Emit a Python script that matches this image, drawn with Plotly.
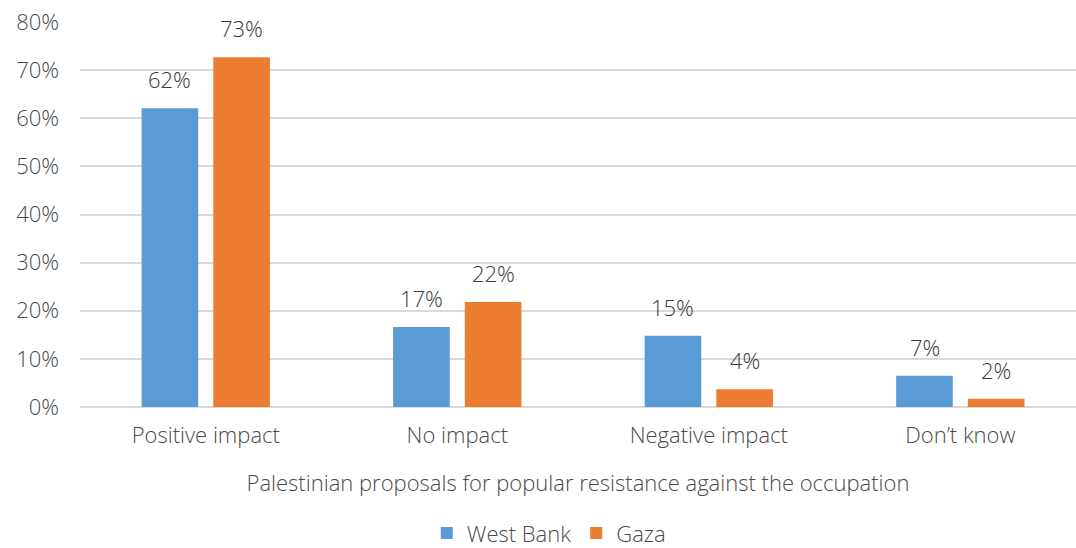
import plotly.graph_objects as go

categories = ["Positive impact", "No impact", "Negative impact", "Don\u2019t know"]
west_bank = [62.1, 16.6, 14.8, 6.5]
gaza = [72.7, 21.8, 3.7, 1.7]
west_bank_labels = [62, 17, 15, 7]
gaza_labels = [73, 22, 4, 2]
y_ticks = [0, 10, 20, 30, 40, 50, 60, 70, 80]
y_tick_labels = [f"{t}%" for t in y_ticks]

FONT = "'Open Sans', Lato, sans-serif"
TXT = "#4a4a4a"
LBL = "#383838"
BLUE = "#5B9BD5"
ORANGE = "#ED7D31"
FS = 22

fig = go.Figure()
fig.add_trace(go.Bar(name="West Bank", x=categories, y=west_bank, marker_color=BLUE,
                     marker_line_width=0))
fig.add_trace(go.Bar(name="Gaza", x=categories, y=gaza, marker_color=ORANGE,
                     marker_line_width=0))

for series, labels, shift in ((west_bank, west_bank_labels, -35.8), (gaza, gaza_labels, 35.8)):
    for c, v, lab in zip(categories, series, labels):
        fig.add_annotation(x=c, y=v, xref="x", yref="y", text=f"{lab}%", showarrow=False,
                           xshift=shift, yshift=12, yanchor="bottom",
                           font=dict(family=FONT, size=FS, color=LBL, weight=300))

fig.update_layout(
    width=1076, height=548,
    margin=dict(l=80, r=0, t=22, b=141),
    paper_bgcolor="white", plot_bgcolor="white",
    barmode="group", bargap=0.43, bargroupgap=0.21,
    font=dict(family=FONT, size=FS, color=TXT, weight=300),
    showlegend=True,
    legend=dict(orientation="h", xref="container", yref="container", x=0.51, y=0.027,
                xanchor="center", yanchor="middle",
                font=dict(size=FS, color=TXT, weight=300),
                itemwidth=30, traceorder="normal"),
    xaxis=dict(range=[-0.5, 3.46], showgrid=False, showline=False, ticks="",
               ticklabelstandoff=13,
               title=dict(text="Palestinian proposals for popular resistance against the occupation",
                          standoff=27, font=dict(size=FS, color=TXT, weight=300))),
    yaxis=dict(range=[0, 80], tickvals=y_ticks, ticktext=y_tick_labels, showgrid=True,
               gridcolor="#D9D9D9", gridwidth=1.5, zeroline=True, zerolinecolor="#D9D9D9",
               zerolinewidth=1.5, showline=False, ticks="", ticklabelstandoff=20,
               tickfont=dict(size=FS, color=TXT, weight=300)),
)

fig.write_html("out.html", config={"displayModeBar": False},
               post_script="document.body.style.margin='0';")
